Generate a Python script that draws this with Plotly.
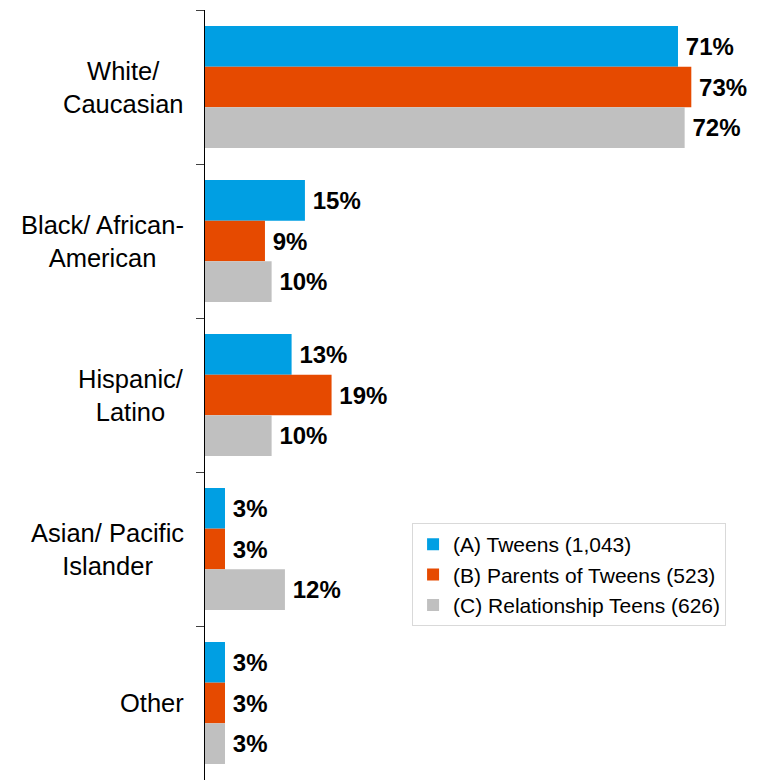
import plotly.graph_objects as go

categories = ["White/<br>Caucasian", "Black/ African-<br>American", "Hispanic/<br>Latino",
              "Asian/ Pacific<br>Islander", "Other"]
cat_keys = ["White", "Black", "Hispanic", "Asian", "Other"]
series_names = ["(A) Tweens (1,043)", "(B) Parents of Tweens (523)", "(C) Relationship Teens (626)"]
tweens = [71, 15, 13, 3, 3]
parents = [73, 9, 19, 3, 3]
teens = [72, 10, 10, 12, 3]
colors = ["#009FE3", "#E64A00", "#C0C0C0"]

FONT = "Liberation Sans, Arial, sans-serif"

fig = go.Figure()
for name, vals, col in zip(series_names, [tweens, parents, teens], colors):
    fig.add_trace(go.Bar(
        y=cat_keys, x=vals, name=name, orientation="h",
        marker=dict(color=col, line=dict(width=0)),
        text=[f"\u2009{v}%" for v in vals],
        textposition="outside", cliponaxis=False, constraintext="none",
        textfont=dict(family=FONT, size=24, color="#000000", weight="bold"),
    ))

for key, label in zip(cat_keys, categories):
    fig.add_annotation(
        x=0, xref="paper", y=key, yref="y", text=label, showarrow=False,
        xanchor="right", yanchor="middle", align="center", xshift=-19,
        font=dict(family=FONT, size=25.5, color="#000000"),
    )

# page body has an 8px margin, so the figure is sized/offset to compensate
fig.update_layout(
    width=753, height=773,
    margin=dict(l=197, r=6, t=2, b=1),
    paper_bgcolor="white", plot_bgcolor="white",
    barmode="group", bargap=0.208, bargroupgap=0,
    showlegend=True,
    legend=dict(
        x=0.3765, y=0.3336, xanchor="left", yanchor="top",
        traceorder="normal",
        font=dict(family=FONT, size=21, color="#000000"),
        bordercolor="#D9D9D9", borderwidth=1, bgcolor="white",
    ),
    xaxis=dict(range=[0, 82.56], visible=False, showgrid=False, zeroline=False),
    yaxis=dict(
        categoryorder="array", categoryarray=cat_keys,
        range=[4.5, -0.5], showticklabels=False,
        showline=True, linecolor="#000000", linewidth=1,
        ticks="outside", tickson="boundaries", ticklen=8, tickcolor="#404040",
        showgrid=False, zeroline=False,
    ),
)

fig.write_html("out.html")
